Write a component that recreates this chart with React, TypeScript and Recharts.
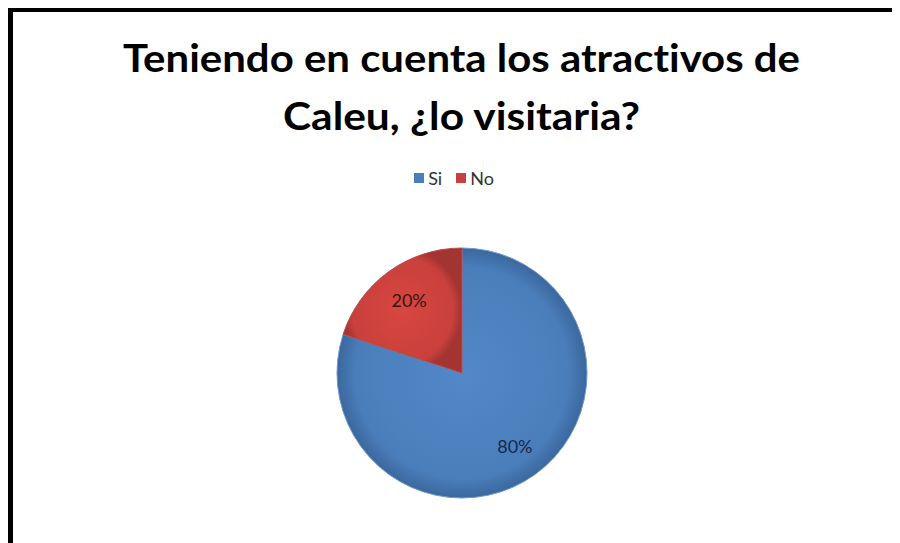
import React from "react";
import { PieChart, Pie, Cell, Legend } from "recharts";

const categories = ["Si", "No"];
const values = [80, 20];
const percentLabels = ["80%", "20%"];
const colors = ["#4A7EBB", "#C9403C"];
const titleLines = ["Teniendo en cuenta los atractivos de", "Caleu, ¿lo visitaria?"];

const data = categories.map((name, i) => ({ name, value: values[i], label: percentLabels[i] }));

const RAD = Math.PI / 180;

const renderLabel = (props: any) => {
  const { cx, cy, midAngle, outerRadius, index } = props;
  const r = outerRadius * 0.72;
  const x = cx + r * Math.cos(-midAngle * RAD);
  const y = cy + r * Math.sin(-midAngle * RAD);
  return (
    <text
      x={x}
      y={y}
      textAnchor="middle"
      dominantBaseline="central"
      fontSize={18}
      fontFamily="Lato, 'Liberation Sans', Arial, sans-serif"
      fill={index === 0 ? "#17284a" : "#3a1412"}
    >
      {data[index].label}
    </text>
  );
};

const renderLegend = () => {
  return (
    <div style={{ display: "flex", justifyContent: "center", alignItems: "center", fontFamily: "Lato, 'Liberation Sans', Arial, sans-serif", fontSize: 18, color: "#333", height: 20 }}>
      {categories.map((c, i) => (
        <div key={c} style={{ display: "flex", alignItems: "center", marginRight: i === 0 ? 14 : 0 }}>
          <span style={{ display: "inline-block", width: 10, height: 10, background: colors[i], marginRight: 4 }} />
          <span>{c}</span>
        </div>
      ))}
    </div>
  );
};

const titleStyle: React.CSSProperties = { fontVariantLigatures: "none", fontFeatureSettings: '"liga" 0, "clig" 0' };

export default function App() {
  return (
    <div
      style={{
        position: "relative",
        width: 892,
        height: 535,
        background: "#fff",
        borderTop: "4px solid #000",
        borderLeft: "5px solid #000",
        boxSizing: "border-box",
        overflow: "hidden",
      }}
    >
      <svg width={892} height={535} style={{ position: "absolute", left: -5, top: -4 }}>
        <text
          x={453.5}
          y={64}
          textAnchor="middle"
          fontSize={39}
          fontWeight="bold"
          fontFamily="Lato, 'Liberation Sans', sans-serif"
          textLength={677}
          lengthAdjust="spacingAndGlyphs"
          fill="#000"
          style={titleStyle}
        >
          {titleLines[0]}
        </text>
        <text
          x={453.5}
          y={122}
          textAnchor="middle"
          fontSize={39}
          fontWeight="bold"
          fontFamily="Lato, 'Liberation Sans', sans-serif"
          textLength={357}
          lengthAdjust="spacingAndGlyphs"
          fill="#000"
          style={titleStyle}
        >
          {titleLines[1]}
        </text>
      </svg>
      <div style={{ position: "absolute", left: -5, top: -4 }}>
        <PieChart width={892} height={535}>
          <defs>
            <radialGradient id="gBlue" cx="50%" cy="50%" r="50%">
              <stop offset="0%" stopColor="#5288c8" />
              <stop offset="85%" stopColor="#4A7EBB" />
              <stop offset="100%" stopColor="#3b679d" />
            </radialGradient>
            <radialGradient id="gRed" cx="50%" cy="50%" r="50%">
              <stop offset="0%" stopColor="#d84641" />
              <stop offset="85%" stopColor="#C9403C" />
              <stop offset="100%" stopColor="#a33431" />
            </radialGradient>
          </defs>
          <Legend
            verticalAlign="top"
            align="center"
            content={renderLegend}
            wrapperStyle={{ top: 160, left: 0, width: 892 }}
          />
          <Pie
            data={data}
            dataKey="value"
            nameKey="name"
            cx={449}
            cy={340}
            outerRadius={125}
            startAngle={90}
            endAngle={-270}
            isAnimationActive={false}
            label={renderLabel}
            labelLine={false}
            strokeWidth={1}
          >
            {data.map((d, i) => (
              <Cell key={d.name} fill={i === 0 ? "url(#gBlue)" : "url(#gRed)"} stroke={i === 0 ? "#6f98cc" : "#b84a46"} />
            ))}
          </Pie>
        </PieChart>
      </div>
    </div>
  );
}
